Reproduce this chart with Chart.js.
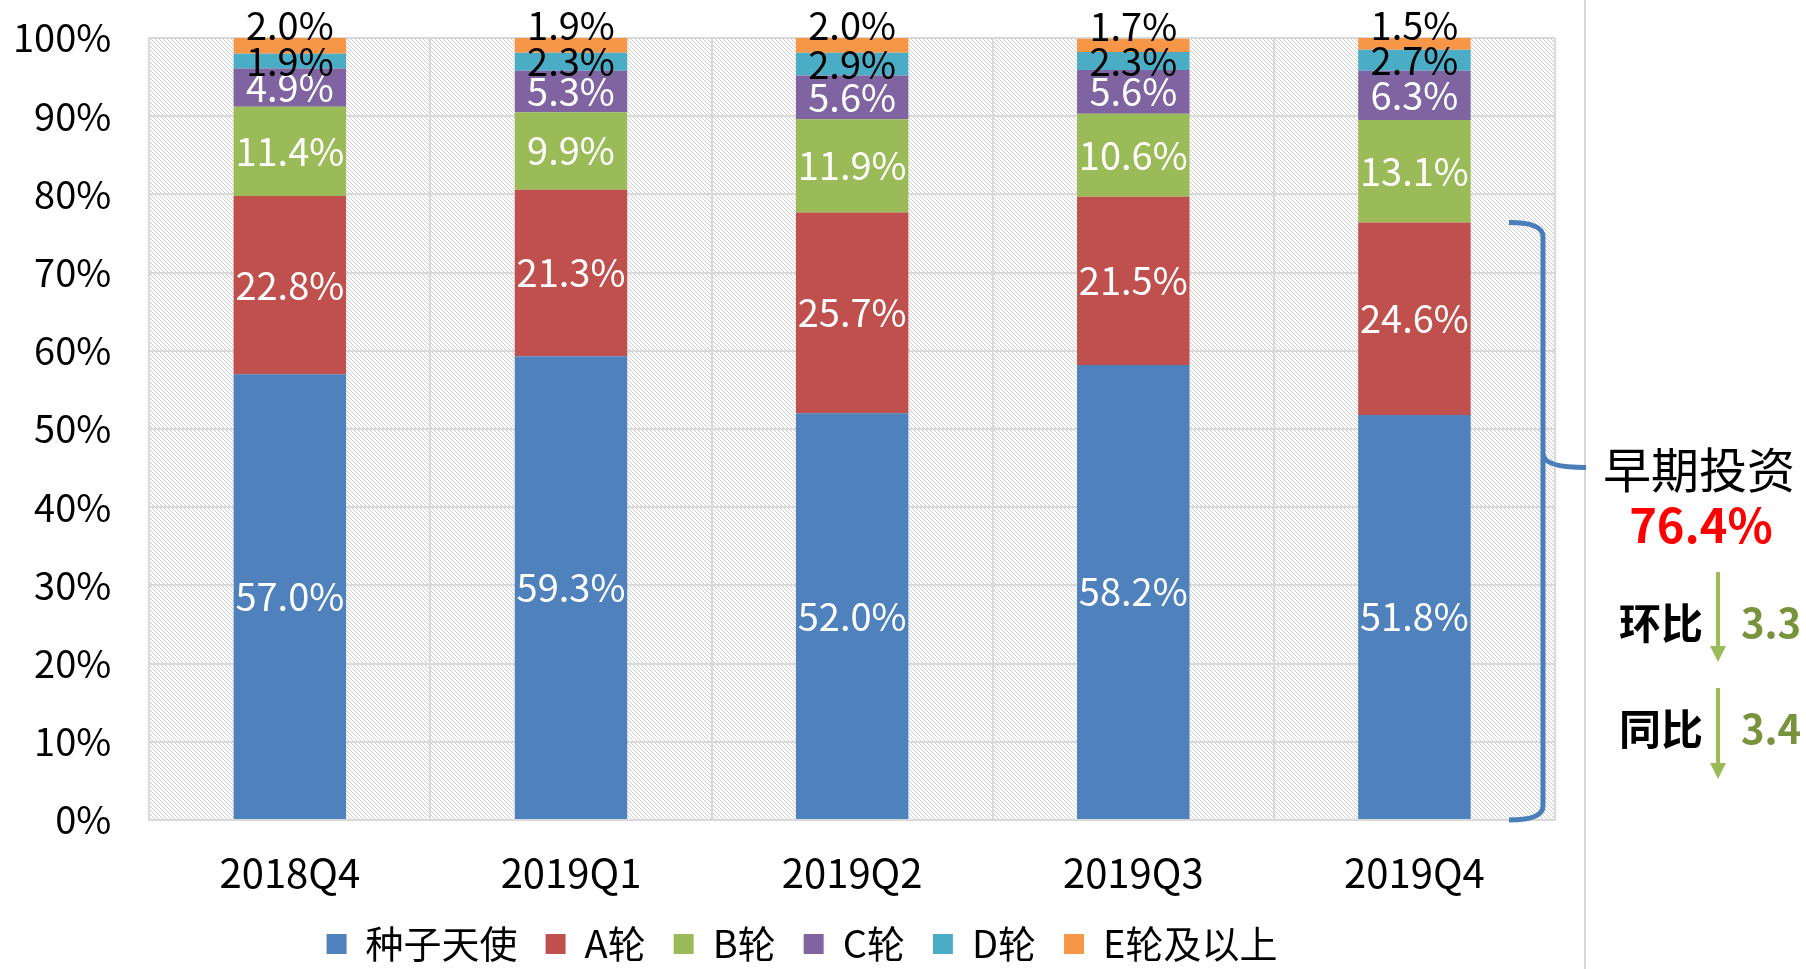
<!DOCTYPE html>
<html lang="zh">
<head>
  <meta charset="UTF-8" />
  <title>投资轮次分布</title>
  <script src="https://cdn.jsdelivr.net/npm/chart.js"></script>
  <style>
    body {
      margin: 0;
      background: white;
    }
    #wrap {
      width: 1806px;
      height: 969px;
      position: relative;
    }
  </style>
</head>
<body>
  <div id="wrap"><canvas id="roundChart"></canvas></div>

  <script>
    const categories = ['2018Q4', '2019Q1', '2019Q2', '2019Q3', '2019Q4'];
    const seriesNames = ['种子天使', 'A轮', 'B轮', 'C轮', 'D轮', 'E轮及以上'];
    const seedAngel = [57.0, 59.3, 52.0, 58.2, 51.8];
    const roundA = [22.8, 21.3, 25.7, 21.5, 24.6];
    const roundB = [11.4, 9.9, 11.9, 10.6, 13.1];
    const roundC = [4.9, 5.3, 5.6, 5.6, 6.3];
    const roundD = [1.9, 2.3, 2.9, 2.3, 2.7];
    const roundE = [2.0, 1.9, 2.0, 1.7, 1.5];
    const earlyShare = 76.4;
    const qoqChange = '3.3';
    const yoyChange = '3.4';

    const colors = ['#4F81BD', '#C0504D', '#9BBB59', '#8064A2', '#4BACC6', '#F79646'];
    const labelColors = ['#fff', '#fff', '#fff', '#fff', '#000', '#000'];
    const font = '"Noto Sans CJK SC", "Noto Sans", sans-serif';
    const legendPad = 28;

    // diagonal hatch for the plot background
    function makeHatch() {
      const c = document.createElement('canvas');
      c.width = 4; c.height = 4;
      const g = c.getContext('2d');
      const img = g.createImageData(4, 4);
      for (let y = 0; y < 4; y++) {
        for (let x = 0; x < 4; x++) {
          const i = (y * 4 + x) * 4;
          const on = ((x - y) % 4 + 4) % 4 === 0;
          const v = on ? 205 : 255;
          img.data[i] = v; img.data[i + 1] = v; img.data[i + 2] = v; img.data[i + 3] = 255;
        }
      }
      g.putImageData(img, 0, 0);
      return c;
    }

    const hatchBg = {
      id: 'hatchBg',
      beforeDraw(chart) {
        const { ctx, chartArea: a } = chart;
        ctx.save();
        ctx.fillStyle = ctx.createPattern(makeHatch(), 'repeat');
        ctx.fillRect(a.left, a.top, a.right - a.left, a.bottom - a.top);
        ctx.restore();
      }
    };

    // move the legend row under the axis labels, like the original
    const legendMove = {
      id: 'legendMove',
      afterLayout(chart) {
        const lg = chart.legend;
        const dy = 944 - (lg.top + legendPad + 19);
        const dx = 37;
        lg.top += dy; lg.bottom += dy;
        lg.left += dx; lg.right += dx;
      }
    };

    const barLabels = {
      id: 'barLabels',
      afterDatasetsDraw(chart) {
        const ctx = chart.ctx;
        ctx.save();
        ctx.font = '38px ' + font;
        ctx.textAlign = 'center';
        ctx.textBaseline = 'middle';
        chart.data.datasets.forEach((ds, di) => {
          chart.getDatasetMeta(di).data.forEach((bar, i) => {
            let y = (bar.y + bar.base) / 2;
            if (di === chart.data.datasets.length - 1) y = bar.y - 12;
            ctx.fillStyle = labelColors[di];
            ctx.fillText(ds.data[i].toFixed(1) + '%', bar.x, y);
          });
        });
        ctx.restore();
      }
    };

    function arrow(ctx, x, y1, y2) {
      ctx.strokeStyle = '#9BBB59';
      ctx.fillStyle = '#9BBB59';
      ctx.lineWidth = 4;
      ctx.beginPath();
      ctx.moveTo(x, y1);
      ctx.lineTo(x, y2 - 14);
      ctx.stroke();
      ctx.beginPath();
      ctx.moveTo(x - 8, y2 - 16);
      ctx.lineTo(x + 8, y2 - 16);
      ctx.lineTo(x, y2);
      ctx.closePath();
      ctx.fill();
    }

    const sideNote = {
      id: 'sideNote',
      afterDraw(chart) {
        const ctx = chart.ctx;
        const yScale = chart.scales.y;
        const yTop = yScale.getPixelForValue(earlyShare);
        const yBot = yScale.getPixelForValue(0);
        const yMid = yTop + (yBot - yTop) * 0.41;
        ctx.save();

        // separator
        ctx.strokeStyle = '#d9d9d9';
        ctx.lineWidth = 2;
        ctx.beginPath();
        ctx.moveTo(1585, 0);
        ctx.lineTo(1585, 969);
        ctx.stroke();

        // brace
        const x0 = 1509, x1 = 1543, xt = 1586, r = 14;
        ctx.strokeStyle = '#4A7EBB';
        ctx.lineWidth = 5;
        ctx.beginPath();
        ctx.moveTo(x0, yTop);
        ctx.quadraticCurveTo(x1, yTop, x1, yTop + r);
        ctx.lineTo(x1, yMid - r);
        ctx.quadraticCurveTo(x1, yMid, xt, yMid);
        ctx.moveTo(x1, yMid - r);
        ctx.quadraticCurveTo(x1, yMid, x1, yMid + r);
        ctx.lineTo(x1, yBot - r);
        ctx.quadraticCurveTo(x1, yBot, x0, yBot);
        ctx.stroke();

        ctx.textAlign = 'center';
        ctx.textBaseline = 'middle';
        ctx.fillStyle = '#000';
        ctx.font = '48px ' + font;
        ctx.fillText('早期投资', 1699, 470);
        ctx.fillStyle = '#FF0000';
        ctx.font = 'bold 47px ' + font;
        ctx.fillText(earlyShare.toFixed(1) + '%', 1701, 525);

        ctx.fillStyle = '#000';
        ctx.font = 'bold 42px ' + font;
        ctx.fillText('环比', 1661, 623);
        ctx.fillText('同比', 1661, 729);

        ctx.textAlign = 'left';
        ctx.fillStyle = '#77933C';
        ctx.font = 'bold 40px ' + font;
        ctx.fillText(qoqChange, 1741, 623);
        ctx.fillText(yoyChange, 1741, 729);

        arrow(ctx, 1718, 572, 662);
        arrow(ctx, 1718, 688, 779);
        ctx.restore();
      }
    };

    const datasets = [seedAngel, roundA, roundB, roundC, roundD, roundE].map((d, i) => ({
      label: seriesNames[i],
      data: d,
      backgroundColor: colors[i],
      barPercentage: 0.4,
      categoryPercentage: 1
    }));

    new Chart(document.getElementById('roundChart'), {
      type: 'bar',
      data: { labels: categories, datasets: datasets },
      options: {
        responsive: true,
        maintainAspectRatio: false,
        animation: false,
        layout: { padding: { left: -25, right: 251, top: 38, bottom: -33 } },
        scales: {
          x: {
            stacked: true,
            grid: { color: '#d9d9d9', lineWidth: 2, drawTicks: false },
            border: { color: '#d9d9d9', width: 2 },
            ticks: { color: '#000', font: { size: 40, family: font }, padding: 29 }
          },
          y: {
            stacked: true,
            min: 0,
            max: 100,
            grid: { color: '#d9d9d9', lineWidth: 2, drawTicks: false },
            border: { color: '#d9d9d9', width: 2 },
            ticks: {
              stepSize: 10,
              color: '#000',
              font: { size: 38, family: font },
              padding: 38,
              callback: v => v + '%'
            },
            afterFit: s => { s.paddingTop = 0; }
          }
        },
        plugins: {
          legend: {
            position: 'bottom',
            labels: {
              color: '#000',
              font: { size: 38, family: font },
              boxWidth: 20,
              boxHeight: 20,
              padding: legendPad
            }
          },
          tooltip: { enabled: false }
        }
      },
      plugins: [hatchBg, legendMove, barLabels, sideNote]
    });
  </script>
</body>
</html>
